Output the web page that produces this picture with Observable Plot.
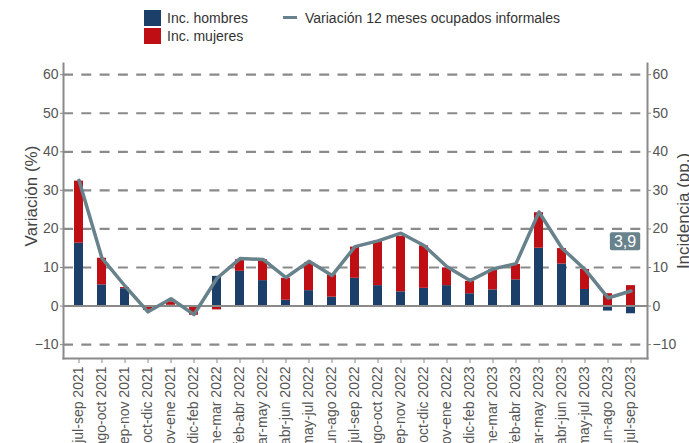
<!DOCTYPE html>
<html>
<head>
<meta charset="utf-8">
<script src="https://cdn.jsdelivr.net/npm/d3@7"></script>
<script src="https://cdn.jsdelivr.net/npm/@observablehq/plot@0.6"></script>
<style>
  html, body { margin: 0; padding: 0; background: #fff; }
  #wrap { position: relative; width: 689px; height: 443px; overflow: hidden; font-family: "Liberation Sans", Arial, sans-serif; }
  #legend { position: absolute; left: 0; top: 0; width: 689px; height: 50px; font-size: 14px; color: #333; }
  .sw { position: absolute; width: 17px; height: 16px; }
  .lt { position: absolute; line-height: 16px; white-space: nowrap; }
  #chart { position: absolute; left: 0; top: 0; }
</style>
</head>
<body>
<div id="wrap">
  <div id="chart"></div>
  <div id="legend"></div>
</div>
<script>
// ---- data ----
const periods = [
  "jul-sep 2021","ago-oct 2021","sep-nov 2021","oct-dic 2021","nov-ene 2021","dic-feb 2022",
  "ene-mar 2022","feb-abr 2022","mar-may 2022","abr-jun 2022","may-jul 2022","jun-ago 2022",
  "jul-sep 2022","ago-oct 2022","sep-nov 2022","oct-dic 2022","nov-ene 2022","dic-feb 2023",
  "ene-mar 2023","feb-abr 2023","mar-may 2023","abr-jun 2023","may-jul 2023","jun-ago 2023","jul-sep 2023"
];
const incHombres = [16.3, 5.5, 4.5, -0.2, 0.2, -0.3, 7.7, 9.0, 6.6, 1.5, 4.0, 2.3, 7.2, 5.3, 3.7, 4.6, 5.3, 3.2, 4.2, 6.8, 15.0, 10.9, 4.3, -1.3, -2.0];
const incMujeres = [16.1, 6.9, 0.3, -0.9, 0.9, -2.1, -1.0, 3.0, 5.4, 5.7, 7.2, 5.8, 8.1, 11.5, 14.4, 11.0, 4.6, 3.2, 5.2, 4.0, 9.2, 4.0, 5.2, 3.2, 5.3];
const variacion = [32.6, 12.4, 5.2, -1.5, 1.9, -2.2, 7.2, 12.3, 12.1, 7.4, 11.6, 7.9, 15.4, 16.9, 18.9, 15.7, 10.2, 6.6, 9.6, 11.0, 24.4, 15.0, 9.5, 2.1, 3.9];
const yTicks = [-10, 0, 10, 20, 30, 40, 50, 60];
const seriesNames = ["Inc. hombres", "Inc. mujeres"];
const lineName = "Variación 12 meses ocupados informales";
const leftTitle = "Variación (%)";
const rightTitle = "Incidencia (pp.)";

// ---- styles ----
const cBlue = "#1c3f6a";
const cRed = "#c00f14";
const cLine = "#67828b";
const cGrid = "#8a8a8a";
const cTick = "#555";

// ---- build tables ----
const bars = [];
periods.forEach((p, i) => {
  bars.push({period: p, sex: seriesNames[0], value: incHombres[i]});
  bars.push({period: p, sex: seriesNames[1], value: incMujeres[i]});
});
const line = periods.map((p, i) => ({period: p, value: variacion[i]}));
const last = line[line.length - 1];
const fmt = v => String(v).replace(".", ",");

const plot = Plot.plot({
  width: 689,
  height: 443,
  marginTop: 63,
  marginBottom: 85,
  marginLeft: 63,
  marginRight: 42,
  style: {fontFamily: "'Liberation Sans', Arial, sans-serif", fontSize: "14px", background: "white", overflow: "hidden"},
  x: {type: "band", domain: periods, paddingInner: 0.6, paddingOuter: 0.42},
  y: {domain: [-13.6, 62.9]},
  color: {domain: seriesNames, range: [cBlue, cRed]},
  marks: [
    Plot.ruleY(yTicks.filter(d => d !== 0), {stroke: cGrid, strokeWidth: 2.2, strokeDasharray: "10,8.3"}),
    Plot.barY(bars, {x: "period", y: "value", fill: "sex", order: seriesNames}),
    Plot.ruleY([0], {stroke: cGrid, strokeWidth: 2}),
    Plot.lineY(line, {x: "period", y: "value", stroke: cLine, strokeWidth: 3.5, strokeLinejoin: "round"}),
    Plot.frame({anchor: "left", stroke: cGrid, strokeWidth: 2}),
    Plot.frame({anchor: "right", stroke: cGrid, strokeWidth: 2}),
    Plot.frame({anchor: "bottom", stroke: cGrid, strokeWidth: 2}),
    Plot.axisY({anchor: "left", ticks: yTicks, tickSize: 3, tickPadding: 2, stroke: cGrid, fill: cTick, label: null, fontSize: 14}),
    Plot.axisY({anchor: "right", ticks: yTicks, tickSize: 3, tickPadding: 2, stroke: cGrid, fill: cTick, label: null, fontSize: 14}),
    Plot.axisX({tickRotate: -90, tickSize: 5, tickPadding: 3, stroke: cGrid, fill: cTick, label: null, fontSize: 14}),
    Plot.text([leftTitle], {frameAnchor: "left", textAnchor: "middle", rotate: -90, dx: -32, dy: -15, fontSize: 17, fill: "#444"}),
    Plot.text([rightTitle], {frameAnchor: "right", textAnchor: "middle", rotate: -90, dx: 36, dy: 0, fontSize: 17, fill: "#444"}),
    Plot.text([last], {x: "period", y: "value", text: d => fmt(d.value), dx: -6, dy: -49.5, fontSize: 16, fill: "white"})
  ]
});
document.getElementById("chart").appendChild(plot);

// label box behind "3,9"
d3.select(plot).selectAll("text").each(function() {
  if (this.textContent === fmt(last.value) && !this.closest("[aria-label^='y-axis']")) {
    const bb = this.getBBox();
    const r = document.createElementNS("http://www.w3.org/2000/svg", "rect");
    r.setAttribute("x", bb.x - 4);
    r.setAttribute("y", bb.y - 0.5);
    r.setAttribute("width", bb.width + 8);
    r.setAttribute("height", bb.height + 1);
    r.setAttribute("rx", 2);
    r.setAttribute("fill", cLine);
    const tr = this.getAttribute("transform");
    if (tr) r.setAttribute("transform", tr);
    this.parentNode.insertBefore(r, this);
  }
});

// legend
const lg = document.getElementById("legend");
lg.innerHTML = `
  <div class="sw" style="left:144px;top:10px;background:${cBlue}"></div>
  <div class="lt" style="left:167px;top:10px">${seriesNames[0]}</div>
  <div class="sw" style="left:144px;top:28px;background:${cRed}"></div>
  <div class="lt" style="left:167px;top:28px">${seriesNames[1]}</div>
  <div style="position:absolute;left:283px;top:16px;width:14px;height:3px;background:${cLine}"></div>
  <div class="lt" style="left:305px;top:10px">${lineName}</div>
`;
</script>
</body>
</html>
